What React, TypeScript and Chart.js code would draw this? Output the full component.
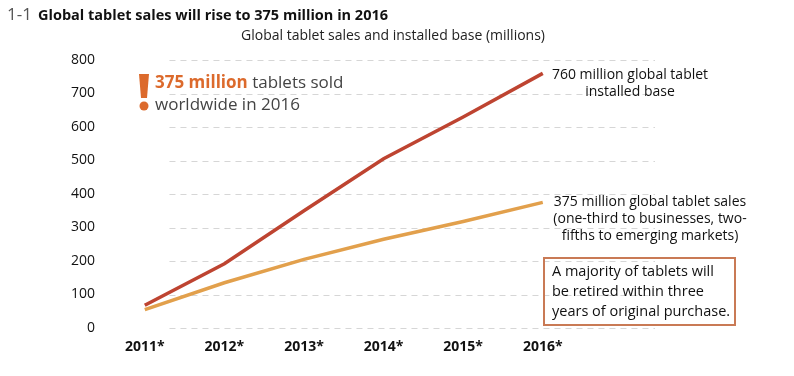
import React, { useEffect, useRef } from "react";
import { Chart, registerables } from "chart.js";

Chart.register(...registerables);

const years = ["2011*", "2012*", "2013*", "2014*", "2015*", "2016*"];
const installedBase = [68, 192, 350, 505, 630, 760];
const tabletSales = [55, 135, 205, 265, 318, 375];
const yTicks = [0, 100, 200, 300, 400, 500, 600, 700, 800];

const FONT = "'Open Sans', 'Noto Sans', sans-serif";
const RED = "#be4431";
const ORANGE = "#e2a04c";
const TEXT_ORANGE = "#dc6a2c";

const overlay = {
  id: "overlay",
  beforeDatasetsDraw(chart: any) {
    const { ctx, scales, chartArea } = chart;
    const y = scales.y;
    const x = scales.x;
    const gx0 = x.getPixelForValue(0.31);
    ctx.save();
    ctx.strokeStyle = "#d6d6d6";
    ctx.lineWidth = 1;
    ctx.setLineDash([6, 5]);
    yTicks.forEach((v) => {
      const py = Math.round(y.getPixelForValue(v)) + 0.5;
      ctx.beginPath();
      ctx.moveTo(gx0, py);
      ctx.lineTo(chartArea.right, py);
      ctx.stroke();
    });
    ctx.restore();
  },
  afterDraw(chart: any) {
    const { ctx } = chart;
    ctx.save();
    ctx.textBaseline = "middle";
    // title
    ctx.textAlign = "left";
    ctx.fillStyle = "#555";
    ctx.font = `17px ${FONT}`;
    ctx.fillText("1-1", 7, 15);
    ctx.fillStyle = "#111";
    ctx.font = `bold 14.5px ${FONT}`;
    ctx.fillText("Global tablet sales will rise to 375 million in 2016", 38, 16);
    ctx.textAlign = "center";
    ctx.font = `14px ${FONT}`;
    ctx.fillStyle = "#222";
    ctx.fillText("Global tablet sales and installed base (millions)", 393, 36);

    // exclamation
    ctx.fillStyle = TEXT_ORANGE;
    ctx.beginPath();
    ctx.moveTo(139, 74);
    ctx.lineTo(149, 74);
    ctx.lineTo(147, 98);
    ctx.lineTo(141, 98);
    ctx.closePath();
    ctx.fill();
    ctx.beginPath();
    ctx.arc(144, 106, 4.5, 0, Math.PI * 2);
    ctx.fill();
    ctx.textAlign = "left";
    ctx.font = `bold 17px ${FONT}`;
    const t1 = "375 million";
    ctx.fillText(t1, 155, 83);
    const w1 = ctx.measureText(t1).width;
    ctx.fillStyle = "#444";
    ctx.font = `17px ${FONT}`;
    ctx.fillText(" tablets sold", 155 + w1, 83);
    ctx.fillText("worldwide in 2016", 155, 105);

    // right labels
    ctx.fillStyle = "#111";
    ctx.font = `14px ${FONT}`;
    ctx.textAlign = "center";
    ctx.fillText("760 million global tablet", 630, 75);
    ctx.fillText("installed base", 630, 92);
    ctx.fillText("375 million global tablet sales", 650, 202);
    ctx.fillText("(one-third to businesses, two-", 650, 219);
    ctx.fillText("fifths to emerging markets)", 650, 236);

    // box
    ctx.strokeStyle = "#c97a55";
    ctx.lineWidth = 2;
    ctx.strokeRect(544, 258, 191, 67);
    ctx.textAlign = "left";
    ctx.font = `14.5px ${FONT}`;
    ctx.fillText("A majority of tablets will", 552, 272);
    ctx.fillText("be retired within three", 552, 292);
    ctx.fillText("years of original purchase.", 552, 312);
    ctx.restore();
  },
};

export default function App() {
  const ref = useRef<HTMLCanvasElement>(null);
  useEffect(() => {
    const chart = new Chart(ref.current!, {
      type: "line",
      data: {
        datasets: [
          {
            label: "Installed base",
            data: installedBase.map((v, i) => ({ x: i, y: v })),
            borderColor: RED,
            borderWidth: 3.5,
            pointRadius: 0,
            tension: 0,
          },
          {
            label: "Sales",
            data: tabletSales.map((v, i) => ({ x: i, y: v })),
            borderColor: ORANGE,
            borderWidth: 3.5,
            pointRadius: 0,
            tension: 0,
          },
        ],
      },
      options: {
        animation: false,
        responsive: false,
        maintainAspectRatio: false,
        layout: { padding: { top: 60, left: 0, right: 139, bottom: 0 } },
        plugins: { legend: { display: false }, tooltip: { enabled: false }, title: { display: false } },
        scales: {
          x: {
            type: "linear",
            min: -0.5,
            max: 6.41,
            grid: { display: false },
            border: { display: false },
            afterBuildTicks: (axis: any) => {
              axis.ticks = years.map((_, i) => ({ value: i }));
            },
            afterFit: (axis: any) => {
              axis.height = 48;
            },
            ticks: {
              callback: (v: any) => years[v] ?? "",
              color: "#111",
              font: { family: FONT, size: 14, weight: "bold" },
              padding: 3,
              maxRotation: 0,
              autoSkip: false,
            },
          },
          y: {
            min: 0,
            max: 800,
            grid: { display: false },
            border: { display: false },
            afterBuildTicks: (axis: any) => {
              axis.ticks = yTicks.map((v) => ({ value: v }));
            },
            afterFit: (axis: any) => {
              axis.width = 105;
            },
            ticks: {
              color: "#111",
              font: { family: FONT, size: 14 },
              padding: 2,
            },
          },
        },
      },
      plugins: [overlay],
    });
    return () => chart.destroy();
  }, []);
  return (
    <div style={{ position: "fixed", left: 0, top: 0, width: 794, height: 376, background: "#fff" }}>
      <canvas ref={ref} width={794} height={376} style={{ width: 794, height: 376 }} />
    </div>
  );
}
